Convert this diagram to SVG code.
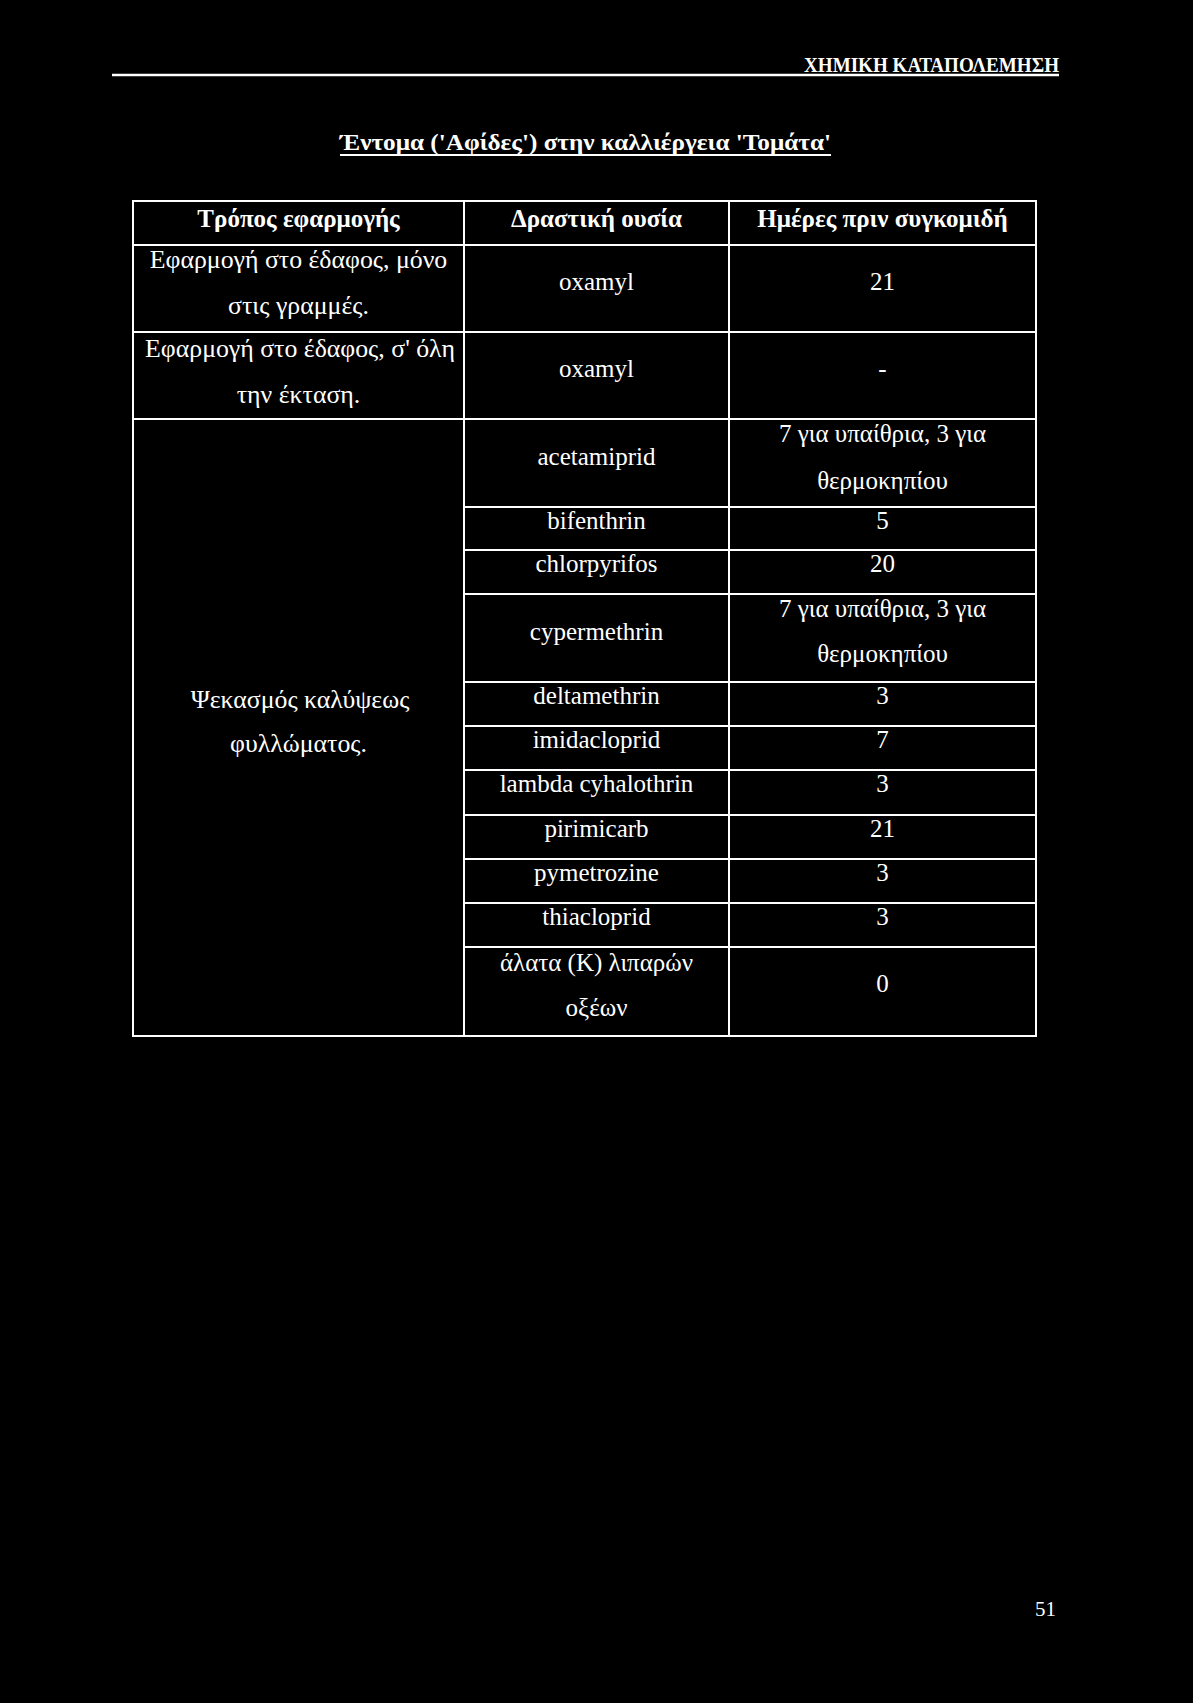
<svg xmlns="http://www.w3.org/2000/svg" width="1193" height="1703" viewBox="0 0 1193 1703">
<style>
.t{font-family:"Liberation Serif","Times New Roman",serif;font-size:25px;fill:#fff;text-anchor:middle}
.gr{font-size:25.8px}
.b{font-weight:bold}
.g line{stroke:#fff;stroke-width:2}
</style>
<rect x="0" y="0" width="1193" height="1703" fill="#000"/>
<g id="page-header">
<line x1="112" y1="75" x2="1059" y2="75" stroke="#fff" stroke-width="2.5"/>
<text x="1059" y="72" class="t b" style="text-anchor:end;font-size:20px" textLength="255" lengthAdjust="spacingAndGlyphs">ΧΗΜΙΚΗ ΚΑΤΑΠΟΛΕΜΗΣΗ</text>
</g>
<g id="title">
<text x="585.5" y="150" class="t b" style="font-size:24px" textLength="491" lengthAdjust="spacingAndGlyphs">Έντομα ('Αφίδες') στην καλλιέργεια 'Τομάτα'</text>
<line x1="340" y1="155" x2="831" y2="155" stroke="#fff" stroke-width="2"/>
</g>
<g id="connectors" class="g">
<line x1="133" y1="201" x2="1036" y2="201"/>
<line x1="133" y1="245" x2="1036" y2="245"/>
<line x1="133" y1="332" x2="1036" y2="332"/>
<line x1="133" y1="419" x2="1036" y2="419"/>
<line x1="464" y1="507" x2="1036" y2="507"/>
<line x1="464" y1="550" x2="1036" y2="550"/>
<line x1="464" y1="594" x2="1036" y2="594"/>
<line x1="464" y1="682" x2="1036" y2="682"/>
<line x1="464" y1="726" x2="1036" y2="726"/>
<line x1="464" y1="770" x2="1036" y2="770"/>
<line x1="464" y1="815" x2="1036" y2="815"/>
<line x1="464" y1="859" x2="1036" y2="859"/>
<line x1="464" y1="903" x2="1036" y2="903"/>
<line x1="464" y1="947" x2="1036" y2="947"/>
<line x1="133" y1="1036" x2="1036" y2="1036"/>
<line x1="133" y1="200" x2="133" y2="1037"/>
<line x1="464" y1="200" x2="464" y2="1037"/>
<line x1="729" y1="200" x2="729" y2="1037"/>
<line x1="1036" y1="200" x2="1036" y2="1037"/>
</g>
<g id="hdr-1"><text x="298.5" y="227" class="t b">Τρόπος εφαρμογής</text></g>
<g id="hdr-2"><text x="596.5" y="227" class="t b">Δραστική ουσία</text></g>
<g id="hdr-3"><text x="882.5" y="227" class="t b">Ημέρες πριν συγκομιδή</text></g>
<g id="m1"><text x="298.5" y="268" class="t gr">Εφαρμογή στο έδαφος, μόνο</text><text x="298.5" y="314" class="t gr">στις γραμμές.</text></g>
<g id="m2"><text x="300" y="357" class="t gr">Εφαρμογή στο έδαφος, σ' όλη</text><text x="298.5" y="403" class="t gr">την έκταση.</text></g>
<g id="m3"><text x="300" y="708" class="t gr">Ψεκασμός καλύψεως</text><text x="298.5" y="752" class="t gr">φυλλώματος.</text></g>
<g id="s1"><text x="596.5" y="290" class="t">oxamyl</text></g>
<g id="d1"><text x="882.5" y="290" class="t">21</text></g>
<g id="s2"><text x="596.5" y="377" class="t">oxamyl</text></g>
<g id="d2"><text x="882.5" y="377" class="t">-</text></g>
<g id="s3"><text x="596.5" y="465" class="t">acetamiprid</text></g>
<g id="d3"><text x="882.5" y="442" class="t">7 για υπαίθρια, 3 για</text><text x="882.5" y="489" class="t">θερμοκηπίου</text></g>
<g id="s4"><text x="596.5" y="529" class="t">bifenthrin</text></g>
<g id="d4"><text x="882.5" y="529" class="t">5</text></g>
<g id="s5"><text x="596.5" y="572" class="t">chlorpyrifos</text></g>
<g id="d5"><text x="882.5" y="572" class="t">20</text></g>
<g id="s6"><text x="596.5" y="640" class="t">cypermethrin</text></g>
<g id="d6"><text x="882.5" y="617" class="t">7 για υπαίθρια, 3 για</text><text x="882.5" y="662" class="t">θερμοκηπίου</text></g>
<g id="s7"><text x="596.5" y="704" class="t">deltamethrin</text></g>
<g id="d7"><text x="882.5" y="704" class="t">3</text></g>
<g id="s8"><text x="596.5" y="748" class="t">imidacloprid</text></g>
<g id="d8"><text x="882.5" y="748" class="t">7</text></g>
<g id="s9"><text x="596.5" y="792" class="t">lambda cyhalothrin</text></g>
<g id="d9"><text x="882.5" y="792" class="t">3</text></g>
<g id="s10"><text x="596.5" y="837" class="t">pirimicarb</text></g>
<g id="d10"><text x="882.5" y="837" class="t">21</text></g>
<g id="s11"><text x="596.5" y="881" class="t">pymetrozine</text></g>
<g id="d11"><text x="882.5" y="881" class="t">3</text></g>
<g id="s12"><text x="596.5" y="925" class="t">thiacloprid</text></g>
<g id="d12"><text x="882.5" y="925" class="t">3</text></g>
<g id="s13"><text x="596.5" y="971" class="t">άλατα (Κ) λιπαρών</text><text x="596.5" y="1016" class="t">οξέων</text></g>
<g id="d13"><text x="882.5" y="992" class="t">0</text></g>
<g id="page-number"><text x="1056" y="1616" class="t" style="text-anchor:end;font-size:21px">51</text></g>
</svg>
